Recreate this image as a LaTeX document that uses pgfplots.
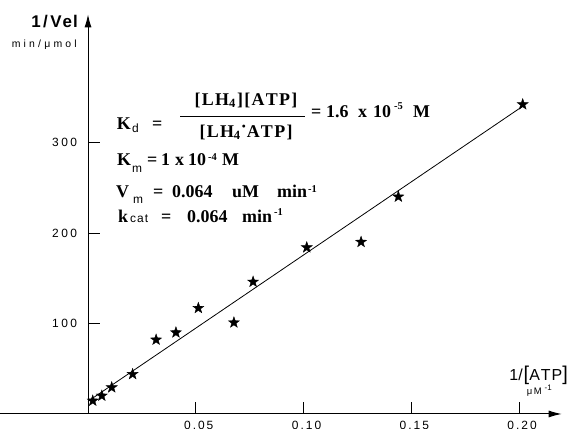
\documentclass[border=0pt]{standalone}
\usepackage{pgfplots}
\pgfplotsset{compat=1.18}
\usetikzlibrary{arrows.meta}
\usepackage{fontspec}
\setmainfont{Liberation Serif}
\setsansfont{Liberation Sans}
\newfontfamily\tickf{Liberation Sans}
\newfontfamily\annf{Liberation Serif}
\newfontfamily\subf{Liberation Sans}

% letter-spacing helper: \spaced{kern}{plain characters}
\def\spfirst#1{#1\sprest}
\def\sprest#1{\ifx#1\relax\else\kern\spk#1\expandafter\sprest\fi}
\newcommand\spaced[2]{\def\spk{#1}\spfirst#2\relax}

\pgfdeclareplotmark{fstar}{%
  \pgfpathmoveto{\pgfpointpolar{90}{\pgfplotmarksize}}%
  \pgfpathlineto{\pgfpointpolar{126}{0.4\pgfplotmarksize}}%
  \pgfpathlineto{\pgfpointpolar{162}{\pgfplotmarksize}}%
  \pgfpathlineto{\pgfpointpolar{198}{0.4\pgfplotmarksize}}%
  \pgfpathlineto{\pgfpointpolar{234}{\pgfplotmarksize}}%
  \pgfpathlineto{\pgfpointpolar{270}{0.4\pgfplotmarksize}}%
  \pgfpathlineto{\pgfpointpolar{306}{\pgfplotmarksize}}%
  \pgfpathlineto{\pgfpointpolar{342}{0.4\pgfplotmarksize}}%
  \pgfpathlineto{\pgfpointpolar{18}{\pgfplotmarksize}}%
  \pgfpathlineto{\pgfpointpolar{54}{0.4\pgfplotmarksize}}%
  \pgfpathclose
  \pgfusepathqfillstroke}

\newcommand\T[3]{\node[anchor=base west, inner sep=0, font=\annf\bfseries\fontsize{18}{21}\selectfont] at (#1,#2) {#3};}
\newcommand\Sb[3]{\node[anchor=base west, inner sep=0, font=\subf\fontsize{12}{14}\selectfont] at (#1,#2) {#3};}
\newcommand\Sp[3]{\node[anchor=base west, inner sep=0, font=\annf\bfseries\fontsize{10.5}{12}\selectfont] at (#1,#2) {#3};}
\newcommand\K{\kern1.3bp}

\begin{document}
\begin{tikzpicture}[x=1bp,y=1bp]
\begin{axis}[
  at={(0,15.5)}, anchor=south west,
  scale only axis, width=561.7bp, height=399.6bp,
  xmin=-0.04084, xmax=0.2198, ymin=0, ymax=441.5,
  axis lines=middle,
  axis line style={line width=1bp},
  every inner x axis line/.append style={-{Latex[length=13bp,width=7bp]}},
  every inner y axis line/.append style={-{Latex[length=13bp,width=7bp]}},
  xtick={0.05,0.1,0.15,0.2},
  xticklabels={\spaced{2bp}{0.05},\spaced{2bp}{0.10},\spaced{2bp}{0.15},\spaced{2bp}{0.20}},
  ytick={100,200,300},
  yticklabels={\spaced{2.4bp}{100},\spaced{2.4bp}{200},\spaced{2.4bp}{300}},
  tick align=center, major tick length=12bp,
  xtick style={yshift=6bp, line width=0.8bp, black},
  ytick style={xshift=6bp, line width=0.8bp, black},
  ticklabel style={font=\tickf\fontsize{12}{14}\selectfont},
  xticklabel style={anchor=base, inner sep=0pt, yshift=-10bp, xshift=3bp},
  yticklabel style={anchor=east, xshift=-1.5bp},
  clip=false,
]
\addplot[black, line width=0.8bp, no marks] coordinates {(0,14) (0.2017,340)};
\addplot[only marks, mark=fstar, mark size=5.8, mark options={fill=black, draw=black}] coordinates {
(0.0022,14.6) (0.0064,20.1) (0.0110,29.3) (0.0207,44) (0.0316,82) (0.0408,90)
(0.0512,117) (0.0677,101) (0.0766,146) (0.1015,184) (0.1267,190) (0.1440,240) (0.2017,342)};
\end{axis}
% axis titles
\node[anchor=base east, inner sep=0, font=\sffamily\bfseries\fontsize{17}{19}\selectfont] at (78,400) {1\kern2.5bp/\kern2.5bp\spaced{1bp}{Vel}};
\node[anchor=base east, inner sep=0, font=\subf\fontsize{10.5}{12}\selectfont] at (77,381) {\spaced{3.2bp}{min/μmol}};
\node[anchor=base east, inner sep=0, font=\sffamily\fontsize{16}{18}\selectfont] at (568,48) {1/\kern1bp{\fontsize{20}{20}\selectfont[}\spaced{1bp}{ATP}{\fontsize{20}{20}\selectfont]}};
\node[anchor=base east, inner sep=0, font=\subf\fontsize{9.5}{11}\selectfont] at (552,34) {\spaced{1.5bp}{μM}\kern3bp\raisebox{3.5bp}{\fontsize{8}{9}\selectfont -1}};
% K_d
\T{116.7}{299}{K}\Sb{132}{296}{d}\T{152}{299}{=}
\node[anchor=base, inner sep=0, font=\annf\bfseries\fontsize{18}{21}\selectfont] at (246,323) {[\K L\K H\textsubscript{4}\K]\K[\K A\K T\K P\K]};
\draw[line width=1.2bp] (180,311.3) -- (305,311.3);
\node[anchor=base, inner sep=0, font=\annf\bfseries\fontsize{18}{21}\selectfont] at (246,291) {[\K L\K H\textsubscript{4}\raisebox{5bp}{·}A\K T\K P\K]};
\T{311}{311}{=}\T{326}{311}{1.6}\T{358}{311}{x}\T{373}{311}{10}\Sp{394}{319}{-5}\T{413}{311}{M}
% K_m
\T{117}{263}{K}\Sb{132}{256}{m}\T{147}{263}{=}\T{161}{263}{1}\T{175}{263}{x}\T{188}{263}{10}\Sp{208}{268}{-4}\T{222}{263}{M}
% V_m
\T{116}{231}{V}\Sb{133}{225}{m}\T{153}{231}{=}\T{172}{231}{0.064}\T{232}{231}{uM}\T{277}{231}{min}\Sp{308}{236}{-1}
% k_cat
\T{118}{206}{k}\Sb{130}{206}{\spaced{1bp}{cat}}\T{161}{206}{=}\T{187}{206}{0.064}\T{242}{206}{min}\Sp{274}{213}{-1}
\pgfresetboundingbox
\path (0,0) rectangle (572,428);
\end{tikzpicture}
\end{document}
